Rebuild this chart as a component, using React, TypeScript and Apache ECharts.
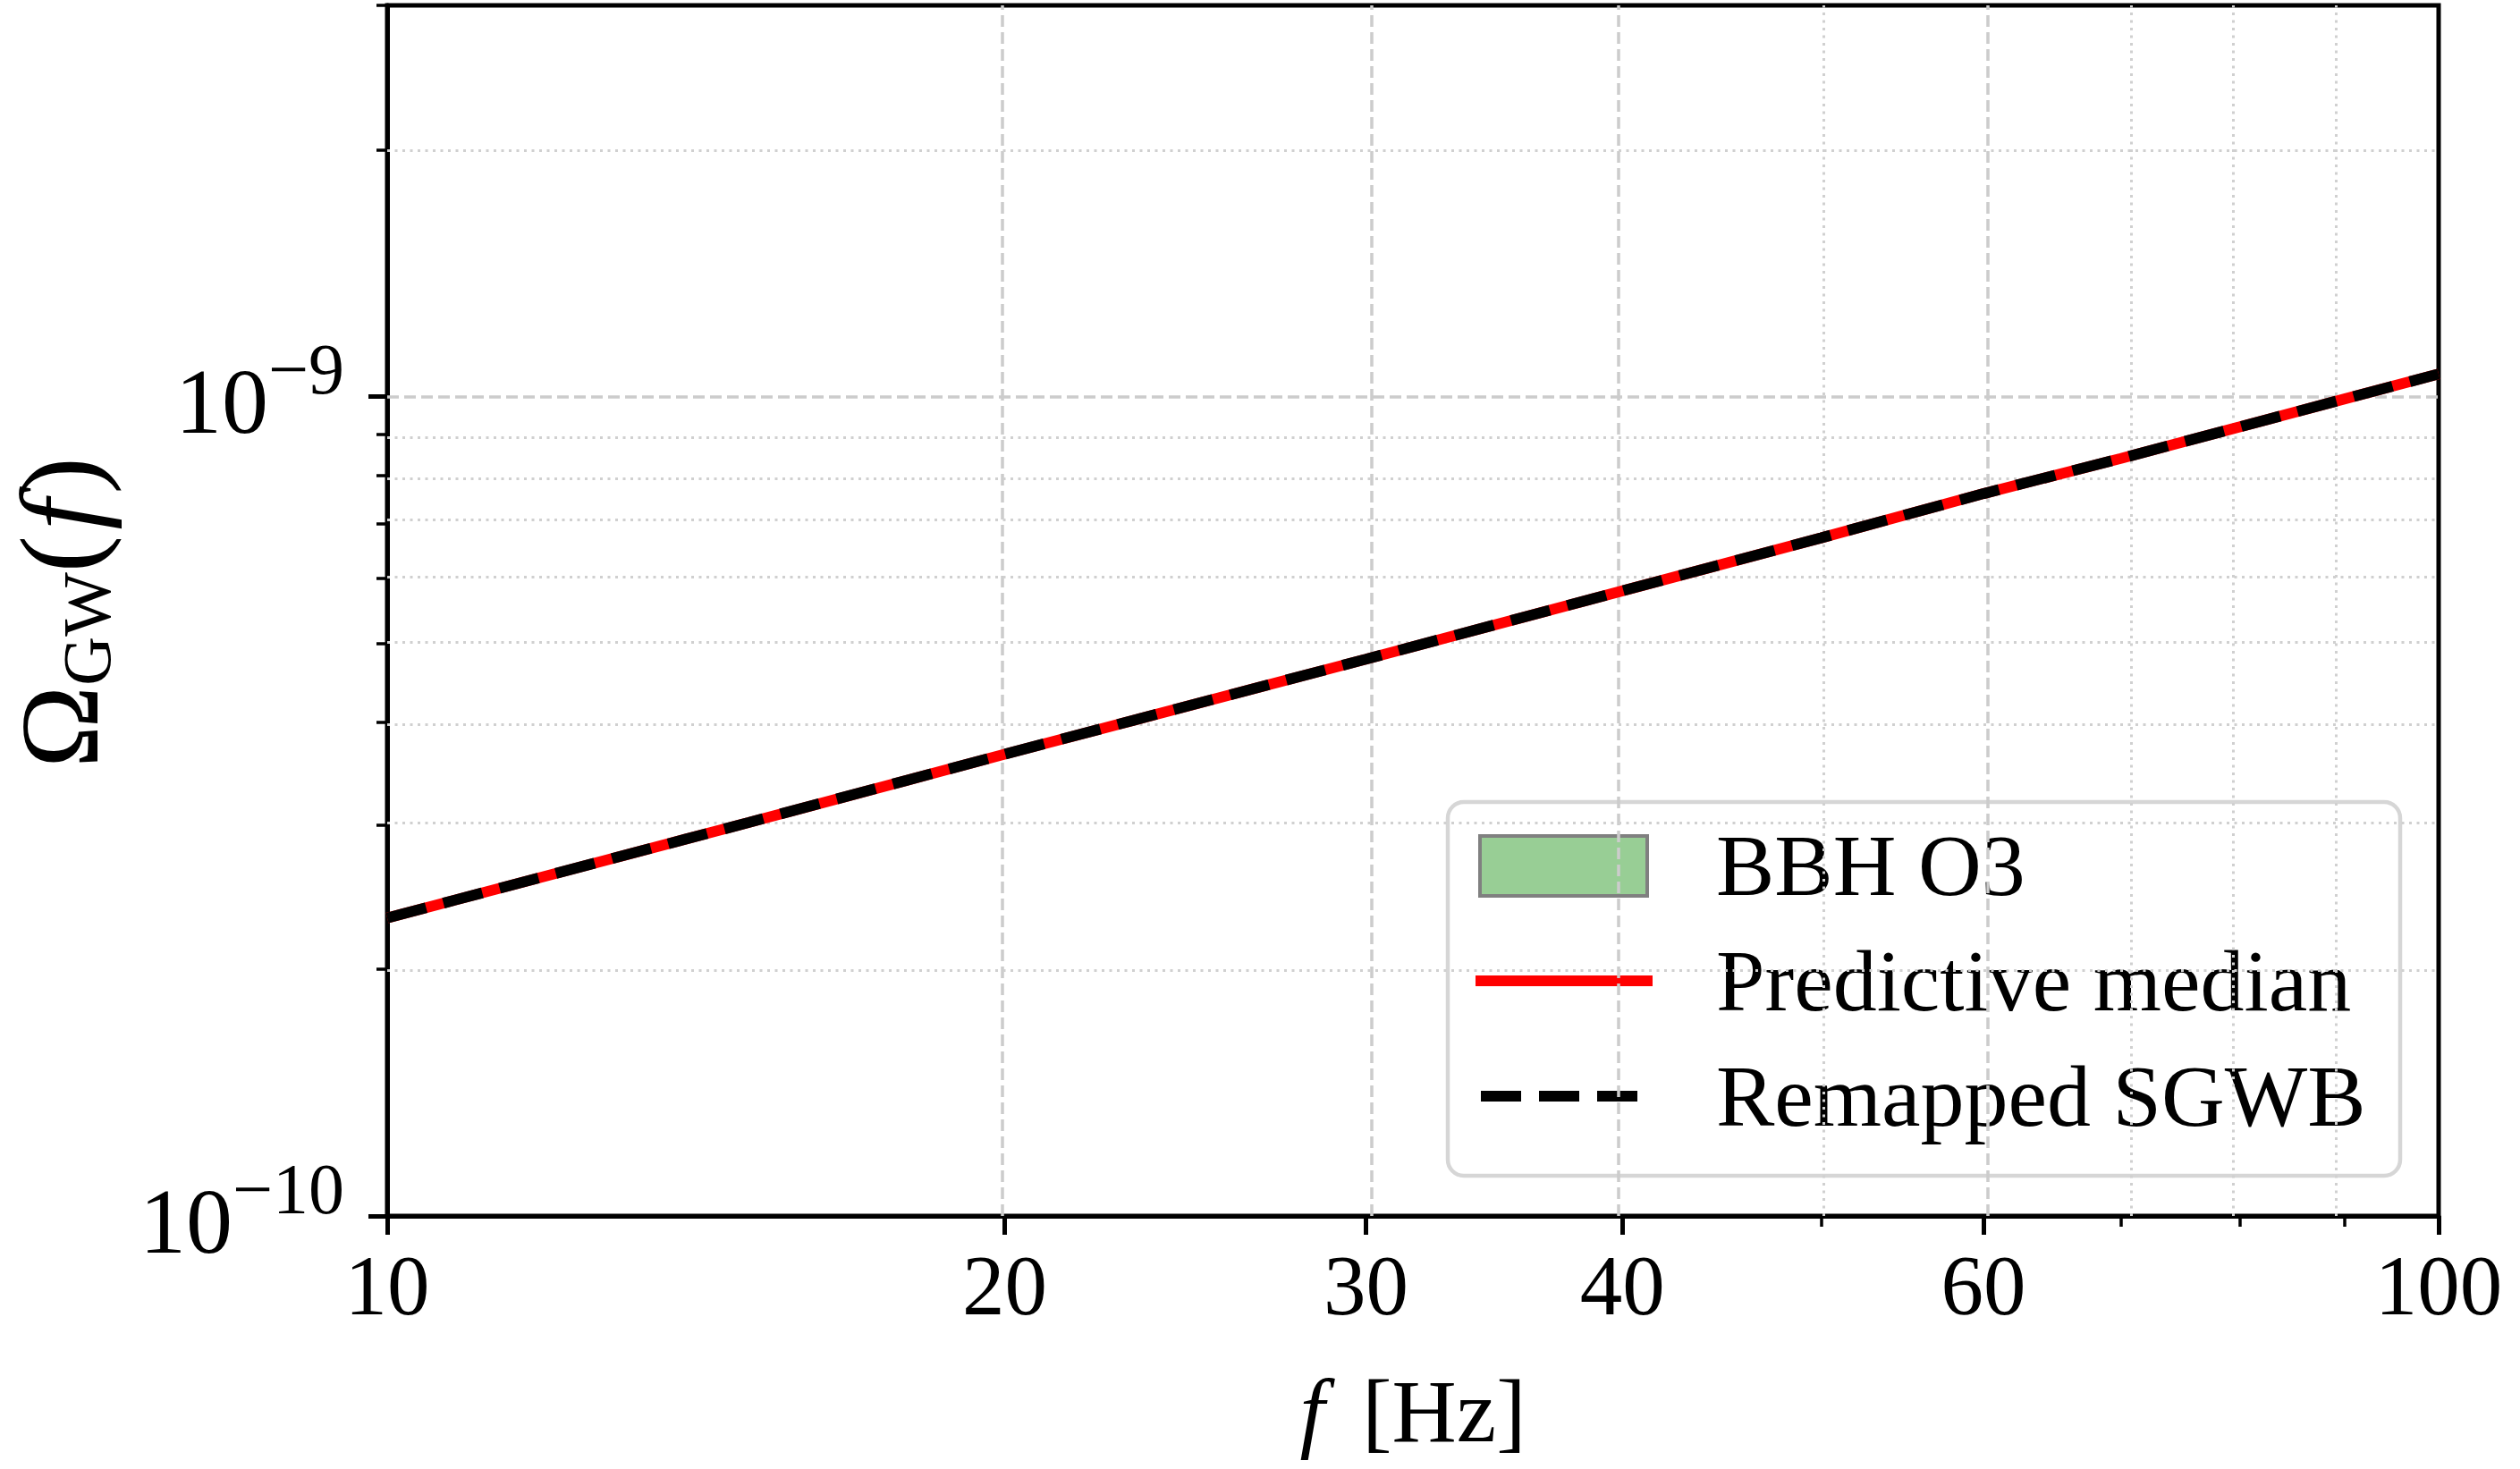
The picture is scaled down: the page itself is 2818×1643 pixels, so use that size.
import React, { useEffect, useRef } from "react";
import * as echarts from "echarts";

// ---- data ----
const freqHz = [10, 15, 20, 30, 40, 50, 60, 70, 80, 90, 100];
const omegaMedian = [2.31e-10, 3.02e-10, 3.66e-10, 4.78e-10, 5.79e-10, 6.72e-10, 7.61e-10, 8.4e-10, 9.18e-10, 9.93e-10, 1.065e-9];
const omegaRemapped = [2.31e-10, 3.02e-10, 3.66e-10, 4.78e-10, 5.79e-10, 6.72e-10, 7.61e-10, 8.4e-10, 9.18e-10, 9.93e-10, 1.065e-9];

const xMajorTicks = [10, 20, 30, 40, 60, 100];
const xMinorTicks = [50, 70, 80, 90];
const xDashedGrid = [20, 30, 40, 60];
const xDottedGrid = [50, 70, 80, 90];
const yMajorTicks = [1e-10, 1e-9];
const yMinorTicks = [2e-10, 3e-10, 4e-10, 5e-10, 6e-10, 7e-10, 8e-10, 9e-10, 2e-9, 3e-9];
const yDashedGrid = [1e-9];
const yDottedGrid = [2e-10, 3e-10, 4e-10, 5e-10, 6e-10, 7e-10, 8e-10, 9e-10, 2e-9];

const xRange = [10, 100];
const yRange = [1e-10, 3e-9];

const legendLabels = ["BBH O3", "Predictive median", "Remapped SGWB"];

const FONT = "'Liberation Serif', 'Times New Roman', serif";
const lg = Math.log10;

export default function App() {
  const ref = useRef<HTMLDivElement>(null);
  useEffect(() => {
    if (!ref.current) return;
    const chart = echarts.init(ref.current, undefined, { renderer: "svg" });

    const G = { left: 433, top: 6, width: 2294, height: 1354 };
    const medianPts = freqHz.map((f, i) => [lg(f), lg(omegaMedian[i])]);
    const remapPts = freqHz.map((f, i) => [lg(f), lg(omegaRemapped[i])]);

    const dashedStyle = { color: "#cccccc", width: 3.5, type: [13, 6] };
    const dottedStyle = { color: "#d0d0d0", width: 3, type: [3, 5.5] };

    const gridLines = [
      ...xDashedGrid.map((v) => ({ xAxis: lg(v), lineStyle: dashedStyle })),
      ...xDottedGrid.map((v) => ({ xAxis: lg(v), lineStyle: dottedStyle })),
      ...yDashedGrid.map((v) => ({ yAxis: lg(v), lineStyle: dashedStyle })),
      ...yDottedGrid.map((v) => ({ yAxis: lg(v), lineStyle: dottedStyle })),
    ];

    const tickFont = 95;
    const yRich = {
      b: { fontSize: 104, fontFamily: FONT, color: "#000", lineHeight: 120, padding: [10, 0, 0, 0] },
      s: { fontSize: 80, fontFamily: FONT, color: "#000", lineHeight: 16, padding: [0, 0, 60, 0] },
    };

    const LX = 1619, LY = 897;
    const LF = 98;
    const option: any = {
      animation: false,
      backgroundColor: "#ffffff",
      grid: [
        { ...G, show: true, borderColor: "#000", borderWidth: 5, backgroundColor: "transparent" },
        { ...G },
      ],
      xAxis: [
        {
          gridIndex: 0, type: "value", min: lg(xRange[0]), max: lg(xRange[1]), position: "bottom",
          axisLine: { show: true, onZero: false, lineStyle: { color: "#000", width: 5 } },
          axisTick: { show: true, customValues: xMajorTicks.map(lg), length: 21, lineStyle: { color: "#000", width: 5 } },
          axisLabel: {
            show: true, customValues: xMajorTicks.map(lg), margin: 30,
            formatter: (v: number) => String(Math.round(Math.pow(10, v))),
            fontSize: tickFont, fontFamily: FONT, color: "#000",
          },
          splitLine: { show: false },
          name: "{i|f}{r|[Hz]}", nameLocation: "middle", nameGap: 158,
          nameTextStyle: {
            rich: {
              i: { fontSize: 100, fontFamily: FONT, fontStyle: "italic", color: "#000", lineHeight: 120, padding: [0, 42, 0, 0] },
              r: { fontSize: 100, fontFamily: FONT, color: "#000", lineHeight: 120 },
            },
          },
        },
        {
          gridIndex: 1, type: "value", min: lg(xRange[0]), max: lg(xRange[1]), position: "bottom",
          axisLine: { show: false, onZero: false },
          axisTick: { show: true, customValues: xMinorTicks.map(lg), length: 12, lineStyle: { color: "#000", width: 3.5 } },
          axisLabel: { show: false }, splitLine: { show: false },
        },
      ],
      yAxis: [
        {
          gridIndex: 0, type: "value", min: lg(yRange[0]), max: lg(yRange[1]), position: "left",
          axisLine: { show: true, onZero: false, lineStyle: { color: "#000", width: 5 } },
          axisTick: { show: true, customValues: yMajorTicks.map(lg), length: 21, lineStyle: { color: "#000", width: 5 } },
          axisLabel: {
            show: true, customValues: yMajorTicks.map(lg), margin: 48,
            formatter: (v: number) => `{b|10}{s|\u2212${Math.round(-v)}}`,
            rich: yRich,
          },
          splitLine: { show: false },
        },
        {
          gridIndex: 1, type: "value", min: lg(yRange[0]), max: lg(yRange[1]), position: "left",
          axisLine: { show: false, onZero: false },
          axisTick: { show: true, customValues: yMinorTicks.map(lg), length: 12, lineStyle: { color: "#000", width: 3.5 } },
          axisLabel: { show: false }, splitLine: { show: false },
        },
      ],
      series: [
        {
          type: "line", xAxisIndex: 0, yAxisIndex: 0, data: medianPts, z: 1, silent: true,
          showSymbol: false, symbol: "none", lineStyle: { opacity: 0, width: 0 },
          markLine: { silent: true, z: 1, symbol: ["none", "none"], label: { show: false }, data: gridLines, animation: false },
        },
        {
          name: legendLabels[1], type: "line", xAxisIndex: 0, yAxisIndex: 0, data: medianPts, z: 3,
          showSymbol: false, symbol: "none", lineStyle: { color: "#ff0000", width: 12 },
        },
        {
          name: legendLabels[2], type: "line", xAxisIndex: 0, yAxisIndex: 0, data: remapPts, z: 4,
          showSymbol: false, symbol: "none", lineStyle: { color: "#000000", width: 12, type: [45, 20] },
        },
      ],
      graphic: [
        {
          type: "text", x: 67, y: 685, rotation: Math.PI / 2, z: 50,
          style: {
            text: "{o|\u03A9}{s|GW}{o|(}{i|f}{o|)}", align: "center", verticalAlign: "middle",
            rich: {
              o: { fontSize: 124, fontFamily: FONT, color: "#000", lineHeight: 136, verticalAlign: "middle" },
              i: { fontSize: 124, fontFamily: FONT, fontStyle: "italic", color: "#000", lineHeight: 136, verticalAlign: "middle", padding: [0, 6, 0, 6] },
              s: { fontSize: 76, fontFamily: FONT, color: "#000", lineHeight: 110, verticalAlign: "bottom" },
            },
          },
        },
        {
          type: "group", z: 100,
          children: [
            { type: "rect", shape: { x: LX, y: LY, width: 1065, height: 418, r: 18 }, style: { fill: "rgba(255,255,255,0.8)", stroke: "#d6d6d6", lineWidth: 4.5 } },
            { type: "rect", shape: { x: 1655, y: 935, width: 187, height: 67 }, style: { fill: "#98ce95", stroke: "#808080", lineWidth: 4 } },
            { type: "line", shape: { x1: 1650, y1: 1097, x2: 1848, y2: 1097 }, style: { stroke: "#ff0000", lineWidth: 12 } },
            { type: "line", shape: { x1: 1656, y1: 1226, x2: 1832, y2: 1226 }, style: { stroke: "#000", lineWidth: 12, lineDash: [45, 20] } },
            { type: "text", x: 1919, y: 968, style: { text: legendLabels[0], fontSize: LF, fontFamily: FONT, fill: "#000", verticalAlign: "middle" } },
            { type: "text", x: 1919, y: 1097, style: { text: legendLabels[1], fontSize: LF, fontFamily: FONT, fill: "#000", verticalAlign: "middle" } },
            { type: "text", x: 1919, y: 1226, style: { text: legendLabels[2], fontSize: LF, fontFamily: FONT, fill: "#000", verticalAlign: "middle" } },
          ],
        },
      ],
    };
    chart.setOption(option);
    return () => chart.dispose();
  }, []);
  return <div ref={ref} style={{ position: "absolute", left: 0, top: 0, width: 2818, height: 1643 }} />;
}
